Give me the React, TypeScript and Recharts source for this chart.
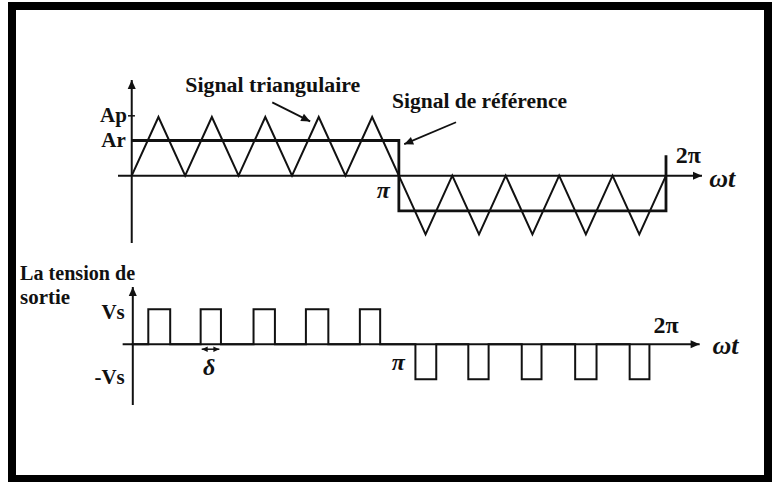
import React from "react";
import { LineChart, Line, XAxis, YAxis, ReferenceLine, ReferenceDot } from "recharts";

// x in carrier periods: 0 .. 10 (pi = 5, 2pi = 10)
const triX = [0, 0.5, 1, 1.5, 2, 2.5, 3, 3.5, 4, 4.5, 5, 5.5, 6, 6.5, 7, 7.5, 8, 8.5, 9, 9.5, 10];
const triY = [0, 1, 0, 1, 0, 1, 0, 1, 0, 1, 0, -1, 0, -1, 0, -1, 0, -1, 0, -1, 0];

const refX = [0, 5, 5, 10, 10];
const refY = [0.6, 0.6, -0.6, -0.6, 0.35];

const outX = [
  0, 0.31, 0.31, 0.72, 0.72, 1.29, 1.29, 1.67, 1.67, 2.28, 2.28, 2.68, 2.68, 3.26, 3.26, 3.68, 3.68, 4.27,
  4.27, 4.65, 4.65, 5.31, 5.31, 5.7, 5.7, 6.3, 6.3, 6.68, 6.68, 7.3, 7.3, 7.67, 7.67, 8.3, 8.3, 8.7, 8.7,
  9.32, 9.32, 9.69, 9.69,
];
const outY = [
  0, 0, 1, 1, 0, 0, 1, 1, 0, 0, 1, 1, 0, 0, 1, 1, 0, 0, 1, 1, 0, 0, -1, -1, 0, 0, -1, -1, 0, 0, -1, -1, 0, 0,
  -1, -1, 0, 0, -1, -1, 0,
];

const X_DOMAIN: [number, number] = [-0.257, 10.674];
const TOP_Y: [number, number] = [-1.146, 1.63];
const BOT_Y: [number, number] = [-1.734, 1.637];

const INK = "#111";
const SERIF = '"Liberation Serif", serif';

const rows = (xs: number[], ys: number[]) => xs.map((x, i) => ({ x, y: ys[i] }));

const txt =
  (s: string, anchor: "start" | "middle" | "end", opts: { size?: number; italic?: boolean; len?: number } = {}) =>
  (p: any) => (
    <text
      x={p.cx}
      y={p.cy}
      textAnchor={anchor}
      dominantBaseline="central"
      style={{
        fontFamily: SERIF,
        fontWeight: 700,
        fontStyle: opts.italic ? "italic" : "normal",
        fontSize: opts.size ?? 19,
      }}
      fill={INK}
      textLength={opts.len}
      lengthAdjust={opts.len ? "spacingAndGlyphs" : undefined}
    >
      {s}
    </text>
  );

const head = (angle: number, size = 9) => (p: any) => (
  <polygon
    points={`0,0 ${-size},${-size * 0.45} ${-size},${size * 0.45}`}
    transform={`translate(${p.cx},${p.cy}) rotate(${angle})`}
    fill={INK}
  />
);

const seg = (x1: number, y1: number, x2: number, y2: number, w = 2) => (
  <ReferenceLine
    segment={[
      { x: x1, y: y1 },
      { x: x2, y: y2 },
    ]}
    stroke={INK}
    strokeWidth={w}
    ifOverflow="visible"
  />
);

const dot = (x: number, y: number, shape: any) => (
  <ReferenceDot x={x} y={y} r={0} shape={shape} ifOverflow="visible" />
);

const chartStyle: React.CSSProperties = { position: "absolute", left: 0, top: 0 };

export default function App() {
  return (
    <div style={{ position: "absolute", left: 0, top: 0, width: 772, height: 482, background: "#fff" }}>
      <div
        style={{
          position: "absolute",
          left: 8,
          top: 2,
          width: 764,
          height: 480,
          boxSizing: "border-box",
          borderStyle: "solid",
          borderColor: "#000",
          borderWidth: "8px 8px 7px 8px",
        }}
      />

      {/* carrier vs reference */}
      <div style={chartStyle}>
        <LineChart width={772} height={482} margin={{ top: 80, right: 70, bottom: 239, left: 118 }}>
          <XAxis type="number" dataKey="x" domain={X_DOMAIN} allowDataOverflow hide />
          <YAxis type="number" domain={TOP_Y} allowDataOverflow hide />
          {seg(-0.257, 0, 10.674, 0)}
          {seg(0, TOP_Y[0], 0, TOP_Y[1])}
          {seg(-0.07, 1.02, 0.06, 1.02, 1.5)}
          {dot(10.674, 0, head(0))}
          {dot(0, TOP_Y[1], head(-90))}
          <Line
            data={rows(triX, triY)}
            dataKey="y"
            type="linear"
            stroke={INK}
            strokeWidth={2}
            dot={false}
            isAnimationActive={false}
          />
          <Line
            data={rows(refX, refY)}
            dataKey="y"
            type="linear"
            stroke={INK}
            strokeWidth={2.8}
            dot={false}
            isAnimationActive={false}
          />
          {seg(2.63, 1.249, 3.34, 0.925, 1.8)}
          {dot(3.34, 0.925, head(26.6))}
          {seg(6.07, 0.91, 5.1, 0.537, 1.8)}
          {dot(5.1, 0.537, head(157))}
          {dot(2.64, 1.537, txt("Signal triangulaire", "middle", { size: 20, len: 175 }))}
          {dot(6.51, 1.27, txt("Signal de référence", "middle", { size: 20, len: 175 }))}
          {dot(-0.09, 1.03, txt("Ap", "end", { size: 21 }))}
          {dot(-0.11, 0.6, txt("Ar", "end", { size: 21 }))}
          {dot(4.71, -0.24, txt("π", "middle", { size: 24, italic: true }))}
          {dot(10.42, 0.35, txt("2π", "middle", { size: 24 }))}
          {dot(10.81, -0.04, txt("ωt", "start", { size: 26, italic: true }))}
        </LineChart>
      </div>

      {/* output voltage */}
      <div style={chartStyle}>
        <LineChart width={772} height={482} margin={{ top: 287, right: 70, bottom: 77, left: 118 }}>
          <XAxis type="number" dataKey="x" domain={X_DOMAIN} allowDataOverflow hide />
          <YAxis type="number" domain={BOT_Y} allowDataOverflow hide />
          {seg(-0.17, 0, 10.63, 0)}
          {seg(0.02, BOT_Y[0], 0.02, BOT_Y[1])}
          {dot(10.63, 0, head(0))}
          {dot(0.02, BOT_Y[1], head(-90))}
          <Line
            data={rows(outX, outY)}
            dataKey="y"
            type="linear"
            stroke={INK}
            strokeWidth={2}
            dot={false}
            isAnimationActive={false}
          />
          {seg(1.31, -0.14, 1.64, -0.14, 1.5)}
          {dot(1.31, -0.14, head(180, 6))}
          {dot(1.64, -0.14, head(0, 6))}
          {dot(-2.09, 2.04, txt("La tension de", "start", { size: 20, len: 115 }))}
          {dot(-2.09, 1.35, txt("sortie", "start", { size: 20, len: 50 }))}
          {dot(-0.13, 0.93, txt("Vs", "end", { size: 21 }))}
          {dot(-0.13, -0.93, txt("-Vs", "end", { size: 21 }))}
          {dot(4.99, -0.5, txt("π", "middle", { size: 24, italic: true }))}
          {dot(10.0, 0.55, txt("2π", "middle", { size: 24 }))}
          {dot(10.87, -0.02, txt("ωt", "start", { size: 26, italic: true }))}
          {dot(1.45, -0.65, txt("δ", "middle", { size: 24, italic: true }))}
        </LineChart>
      </div>
    </div>
  );
}
